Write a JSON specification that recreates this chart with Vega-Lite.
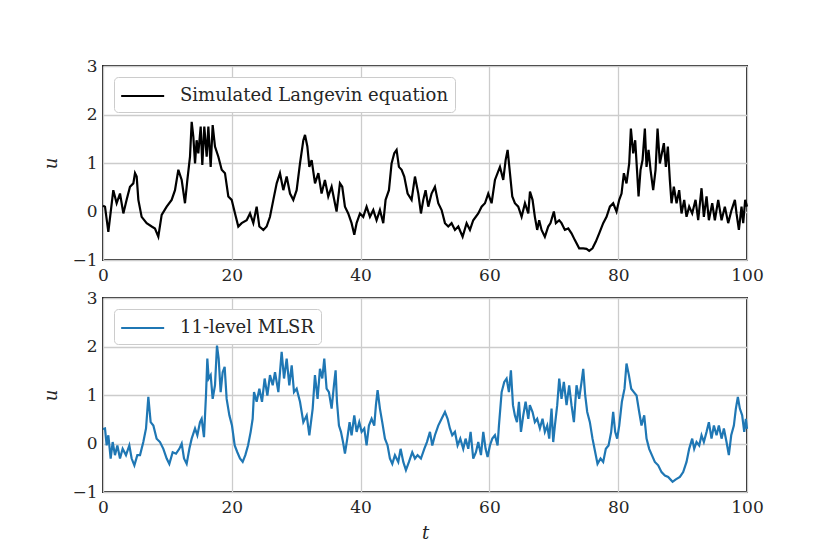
{
  "$schema": "https://vega.github.io/schema/vega-lite/v6.json",
  "description": "Simulated Langevin equation vs 11-level MLSR",
  "background": "white",
  "padding": {"left": 41, "top": 56, "right": 5, "bottom": 5},
  "spacing": 38,
  "bounds": "flush",
  "datasets": {
    "langevin": [
      {"t": 0, "u": 0.12}, {"t": 0.31, "u": 0.1}, {"t": 0.83, "u": -0.42}, {"t": 1.6, "u": 0.44}, {"t": 2.12, "u": 0.17},
      {"t": 2.64, "u": 0.37}, {"t": 3.16, "u": -0.04}, {"t": 3.67, "u": 0.24}, {"t": 4.19, "u": 0.51}, {"t": 4.71, "u": 0.58},
      {"t": 4.97, "u": 0.79}, {"t": 5.23, "u": 0.72}, {"t": 5.49, "u": 0.24}, {"t": 6.0, "u": -0.11}, {"t": 6.78, "u": -0.24},
      {"t": 7.56, "u": -0.31}, {"t": 8.07, "u": -0.35}, {"t": 8.59, "u": -0.52}, {"t": 9.11, "u": -0.07}, {"t": 9.89, "u": 0.1},
      {"t": 10.66, "u": 0.24}, {"t": 11.18, "u": 0.44}, {"t": 11.7, "u": 0.86}, {"t": 12.22, "u": 0.65}, {"t": 12.73, "u": 0.17},
      {"t": 13.1, "u": 0.65}, {"t": 13.51, "u": 1.13}, {"t": 13.77, "u": 1.85}, {"t": 14.03, "u": 1.54}, {"t": 14.29, "u": 0.99},
      {"t": 14.54, "u": 1.47}, {"t": 14.8, "u": 1.2}, {"t": 15.17, "u": 1.75}, {"t": 15.42, "u": 0.96}, {"t": 15.73, "u": 1.75},
      {"t": 16.1, "u": 1.13}, {"t": 16.36, "u": 1.75}, {"t": 16.72, "u": 0.92}, {"t": 17.03, "u": 1.78}, {"t": 17.39, "u": 1.34},
      {"t": 17.91, "u": 1.13}, {"t": 18.43, "u": 0.86}, {"t": 18.94, "u": 0.79}, {"t": 19.46, "u": 0.31}, {"t": 19.98, "u": 0.24},
      {"t": 20.5, "u": -0.04}, {"t": 21.01, "u": -0.31}, {"t": 21.53, "u": -0.24}, {"t": 22.31, "u": -0.18}, {"t": 22.83, "u": -0.04},
      {"t": 23.34, "u": -0.24}, {"t": 23.86, "u": 0.1}, {"t": 24.28, "u": -0.31}, {"t": 24.9, "u": -0.38}, {"t": 25.41, "u": -0.31},
      {"t": 25.93, "u": -0.11}, {"t": 26.45, "u": 0.24}, {"t": 26.97, "u": 0.58}, {"t": 27.48, "u": 0.79}, {"t": 28.0, "u": 0.44},
      {"t": 28.52, "u": 0.72}, {"t": 29.04, "u": 0.37}, {"t": 29.55, "u": 0.24}, {"t": 30.07, "u": 0.44}, {"t": 30.59, "u": 0.99},
      {"t": 31.11, "u": 1.47}, {"t": 31.37, "u": 1.58}, {"t": 31.73, "u": 1.34}, {"t": 32.04, "u": 0.92}, {"t": 32.4, "u": 1.06},
      {"t": 32.92, "u": 0.58}, {"t": 33.44, "u": 0.79}, {"t": 33.94, "u": 0.37}, {"t": 34.46, "u": 0.65}, {"t": 34.98, "u": 0.31},
      {"t": 35.5, "u": 0.51}, {"t": 36.01, "u": 0.17}, {"t": 36.27, "u": 0.0}, {"t": 36.79, "u": 0.58}, {"t": 37.15, "u": 0.51},
      {"t": 37.57, "u": 0.1}, {"t": 38.08, "u": -0.04}, {"t": 38.6, "u": -0.24}, {"t": 39.02, "u": -0.48}, {"t": 39.38, "u": -0.24},
      {"t": 39.9, "u": -0.04}, {"t": 40.41, "u": -0.11}, {"t": 40.93, "u": 0.1}, {"t": 41.45, "u": -0.11}, {"t": 41.97, "u": 0.03},
      {"t": 42.48, "u": -0.18}, {"t": 43.0, "u": 0.03}, {"t": 43.52, "u": -0.24}, {"t": 43.88, "u": 0.24}, {"t": 44.4, "u": 0.44},
      {"t": 44.81, "u": 0.99}, {"t": 45.23, "u": 1.2}, {"t": 45.59, "u": 1.27}, {"t": 45.95, "u": 0.92}, {"t": 46.37, "u": 0.86},
      {"t": 46.78, "u": 0.72}, {"t": 47.3, "u": 0.37}, {"t": 47.92, "u": 0.24}, {"t": 48.44, "u": 0.72}, {"t": 48.96, "u": 0.37},
      {"t": 49.37, "u": -0.04}, {"t": 49.73, "u": 0.24}, {"t": 50.09, "u": 0.44}, {"t": 50.51, "u": 0.1}, {"t": 51.02, "u": 0.37},
      {"t": 51.54, "u": 0.51}, {"t": 52.06, "u": 0.17}, {"t": 52.58, "u": 0.03}, {"t": 53.1, "u": -0.24}, {"t": 53.61, "u": -0.31},
      {"t": 54.13, "u": -0.24}, {"t": 54.65, "u": -0.38}, {"t": 55.17, "u": -0.31}, {"t": 55.84, "u": -0.52}, {"t": 56.46, "u": -0.24},
      {"t": 56.98, "u": -0.38}, {"t": 57.49, "u": -0.18}, {"t": 58.27, "u": -0.04}, {"t": 58.79, "u": 0.1}, {"t": 59.31, "u": 0.17},
      {"t": 59.82, "u": 0.37}, {"t": 60.34, "u": 0.17}, {"t": 60.86, "u": 0.65}, {"t": 61.64, "u": 0.92}, {"t": 62.15, "u": 0.65},
      {"t": 62.52, "u": 1.06}, {"t": 62.83, "u": 1.27}, {"t": 63.19, "u": 0.79}, {"t": 63.55, "u": 0.31}, {"t": 63.96, "u": 0.17},
      {"t": 64.48, "u": 0.1}, {"t": 65.0, "u": -0.11}, {"t": 65.52, "u": 0.17}, {"t": 66.04, "u": -0.04}, {"t": 66.3, "u": 0.41},
      {"t": 66.7, "u": 0.24}, {"t": 67.06, "u": -0.11}, {"t": 67.42, "u": -0.38}, {"t": 67.73, "u": -0.18}, {"t": 68.1, "u": -0.38},
      {"t": 68.61, "u": -0.52}, {"t": 69.13, "u": -0.31}, {"t": 69.49, "u": -0.24}, {"t": 70.01, "u": 0.0}, {"t": 70.32, "u": -0.24},
      {"t": 70.84, "u": -0.18}, {"t": 71.2, "u": -0.24}, {"t": 71.72, "u": -0.38}, {"t": 72.24, "u": -0.35}, {"t": 72.75, "u": -0.45},
      {"t": 73.27, "u": -0.59}, {"t": 73.94, "u": -0.76}, {"t": 74.57, "u": -0.76}, {"t": 75.08, "u": -0.77}, {"t": 75.5, "u": -0.81},
      {"t": 76.01, "u": -0.76}, {"t": 76.53, "u": -0.62}, {"t": 77.05, "u": -0.45}, {"t": 77.67, "u": -0.24}, {"t": 78.19, "u": -0.11},
      {"t": 78.71, "u": 0.1}, {"t": 79.22, "u": 0.17}, {"t": 79.74, "u": 0.0}, {"t": 80.16, "u": 0.24}, {"t": 80.52, "u": 0.37},
      {"t": 80.88, "u": 0.79}, {"t": 81.29, "u": 0.58}, {"t": 81.71, "u": 0.99}, {"t": 81.97, "u": 1.71}, {"t": 82.33, "u": 1.2},
      {"t": 82.64, "u": 1.47}, {"t": 82.95, "u": 0.79}, {"t": 83.16, "u": 0.31}, {"t": 83.47, "u": 0.86}, {"t": 83.78, "u": 1.06},
      {"t": 84.14, "u": 1.71}, {"t": 84.4, "u": 0.92}, {"t": 84.71, "u": 1.27}, {"t": 85.02, "u": 0.86}, {"t": 85.43, "u": 0.44},
      {"t": 85.8, "u": 0.86}, {"t": 86.11, "u": 1.71}, {"t": 86.47, "u": 0.99}, {"t": 86.78, "u": 1.2}, {"t": 87.09, "u": 1.41},
      {"t": 87.4, "u": 0.92}, {"t": 87.71, "u": 1.34}, {"t": 88.02, "u": 0.65}, {"t": 88.28, "u": 0.17}, {"t": 88.64, "u": 0.51},
      {"t": 89.06, "u": 0.17}, {"t": 89.47, "u": 0.44}, {"t": 89.83, "u": -0.04}, {"t": 90.25, "u": 0.24}, {"t": 90.61, "u": -0.11},
      {"t": 91.02, "u": 0.1}, {"t": 91.49, "u": -0.04}, {"t": 92.01, "u": 0.24}, {"t": 92.42, "u": -0.18}, {"t": 92.94, "u": 0.48},
      {"t": 93.3, "u": -0.11}, {"t": 93.72, "u": 0.31}, {"t": 94.08, "u": -0.18}, {"t": 94.6, "u": 0.17}, {"t": 95.01, "u": -0.18},
      {"t": 95.53, "u": 0.24}, {"t": 96.05, "u": -0.18}, {"t": 96.56, "u": 0.1}, {"t": 97.08, "u": -0.24}, {"t": 97.6, "u": 0.03},
      {"t": 98.12, "u": 0.24}, {"t": 98.37, "u": -0.04}, {"t": 98.74, "u": -0.38}, {"t": 99.15, "u": 0.1}, {"t": 99.41, "u": -0.24},
      {"t": 99.72, "u": 0.24}, {"t": 100, "u": 0.1}
    ],
    "mlsr": [
      {"t": 0, "u": 0.3}, {"t": 0.31, "u": 0.31}, {"t": 0.57, "u": -0.04}, {"t": 0.83, "u": 0.17}, {"t": 1.19, "u": -0.31},
      {"t": 1.5, "u": 0.03}, {"t": 1.86, "u": -0.24}, {"t": 2.23, "u": -0.04}, {"t": 2.64, "u": -0.31}, {"t": 3.05, "u": -0.11},
      {"t": 3.57, "u": -0.24}, {"t": 4.09, "u": -0.04}, {"t": 4.45, "u": -0.31}, {"t": 4.87, "u": -0.45}, {"t": 5.33, "u": -0.24},
      {"t": 5.75, "u": -0.24}, {"t": 6.26, "u": 0.03}, {"t": 6.68, "u": 0.31}, {"t": 7.04, "u": 0.96}, {"t": 7.4, "u": 0.44},
      {"t": 7.82, "u": 0.37}, {"t": 8.33, "u": 0.1}, {"t": 8.85, "u": 0.03}, {"t": 9.37, "u": -0.11}, {"t": 9.89, "u": -0.31},
      {"t": 10.3, "u": -0.42}, {"t": 10.82, "u": -0.18}, {"t": 11.34, "u": -0.21}, {"t": 11.85, "u": -0.11}, {"t": 12.22, "u": 0.0},
      {"t": 12.58, "u": -0.31}, {"t": 12.99, "u": -0.42}, {"t": 13.41, "u": -0.11}, {"t": 13.77, "u": 0.1}, {"t": 14.29, "u": 0.31},
      {"t": 14.65, "u": 0.17}, {"t": 15.06, "u": 0.44}, {"t": 15.32, "u": 0.51}, {"t": 15.68, "u": 0.13}, {"t": 15.99, "u": 0.99},
      {"t": 16.2, "u": 1.75}, {"t": 16.41, "u": 1.34}, {"t": 16.72, "u": 1.41}, {"t": 17.03, "u": 0.92}, {"t": 17.39, "u": 1.2},
      {"t": 17.7, "u": 2.02}, {"t": 17.96, "u": 1.75}, {"t": 18.27, "u": 1.06}, {"t": 18.58, "u": 1.47}, {"t": 18.89, "u": 1.58},
      {"t": 19.2, "u": 0.92}, {"t": 19.62, "u": 0.58}, {"t": 20.03, "u": 0.37}, {"t": 20.45, "u": -0.04}, {"t": 20.86, "u": -0.18},
      {"t": 21.27, "u": -0.31}, {"t": 21.69, "u": -0.38}, {"t": 22.1, "u": -0.24}, {"t": 22.52, "u": -0.04}, {"t": 22.93, "u": 0.24},
      {"t": 23.24, "u": 0.51}, {"t": 23.45, "u": 1.06}, {"t": 23.86, "u": 0.86}, {"t": 24.28, "u": 1.13}, {"t": 24.69, "u": 0.86},
      {"t": 25.1, "u": 1.34}, {"t": 25.52, "u": 0.99}, {"t": 25.93, "u": 1.41}, {"t": 26.35, "u": 1.2}, {"t": 26.71, "u": 1.47},
      {"t": 27.23, "u": 1.06}, {"t": 27.74, "u": 1.89}, {"t": 28.11, "u": 1.34}, {"t": 28.52, "u": 1.75}, {"t": 28.93, "u": 1.2},
      {"t": 29.3, "u": 1.61}, {"t": 29.66, "u": 1.06}, {"t": 30.07, "u": 1.13}, {"t": 30.59, "u": 0.86}, {"t": 31.11, "u": 0.44},
      {"t": 31.63, "u": 0.58}, {"t": 32.04, "u": 0.17}, {"t": 32.56, "u": 0.72}, {"t": 32.91, "u": 1.41}, {"t": 33.32, "u": 0.92},
      {"t": 33.69, "u": 1.54}, {"t": 34.05, "u": 1.34}, {"t": 34.36, "u": 1.75}, {"t": 34.72, "u": 1.13}, {"t": 35.08, "u": 1.06},
      {"t": 35.5, "u": 0.72}, {"t": 35.86, "u": 1.2}, {"t": 36.12, "u": 1.51}, {"t": 36.33, "u": 0.86}, {"t": 36.64, "u": 0.37},
      {"t": 36.95, "u": 0.24}, {"t": 37.27, "u": 0.03}, {"t": 37.57, "u": -0.21}, {"t": 37.93, "u": 0.1}, {"t": 38.29, "u": 0.44},
      {"t": 38.6, "u": 0.17}, {"t": 39.02, "u": 0.58}, {"t": 39.38, "u": 0.24}, {"t": 39.79, "u": 0.44}, {"t": 40.16, "u": 0.24},
      {"t": 40.57, "u": 0.31}, {"t": 40.93, "u": -0.04}, {"t": 41.29, "u": 0.37}, {"t": 41.71, "u": 0.51}, {"t": 42.12, "u": 0.37},
      {"t": 42.38, "u": 0.79}, {"t": 42.64, "u": 1.1}, {"t": 43.0, "u": 0.72}, {"t": 43.36, "u": 0.44}, {"t": 43.78, "u": 0.1},
      {"t": 44.19, "u": -0.04}, {"t": 44.55, "u": -0.31}, {"t": 44.92, "u": -0.42}, {"t": 45.33, "u": -0.24}, {"t": 45.85, "u": -0.38},
      {"t": 46.21, "u": -0.11}, {"t": 46.63, "u": -0.38}, {"t": 47.04, "u": -0.55}, {"t": 47.51, "u": -0.38}, {"t": 48.02, "u": -0.18},
      {"t": 48.44, "u": -0.31}, {"t": 48.85, "u": -0.24}, {"t": 49.37, "u": -0.31}, {"t": 49.89, "u": -0.11}, {"t": 50.3, "u": 0.03},
      {"t": 50.77, "u": 0.24}, {"t": 51.13, "u": -0.04}, {"t": 51.54, "u": 0.17}, {"t": 52.06, "u": 0.37}, {"t": 52.58, "u": 0.51},
      {"t": 53.1, "u": 0.65}, {"t": 53.51, "u": 0.51}, {"t": 53.87, "u": 0.31}, {"t": 54.23, "u": 0.17}, {"t": 54.65, "u": 0.24},
      {"t": 55.06, "u": -0.04}, {"t": 55.48, "u": 0.1}, {"t": 55.94, "u": -0.11}, {"t": 56.3, "u": 0.1}, {"t": 56.72, "u": -0.11},
      {"t": 57.08, "u": 0.24}, {"t": 57.49, "u": -0.31}, {"t": 57.91, "u": -0.18}, {"t": 58.27, "u": 0.03}, {"t": 58.69, "u": -0.24},
      {"t": 59.05, "u": 0.24}, {"t": 59.41, "u": -0.11}, {"t": 59.72, "u": -0.28}, {"t": 60.08, "u": -0.04}, {"t": 60.45, "u": 0.1},
      {"t": 60.86, "u": 0.17}, {"t": 61.27, "u": -0.04}, {"t": 61.48, "u": 0.37}, {"t": 61.9, "u": 1.06}, {"t": 62.31, "u": 1.27},
      {"t": 62.67, "u": 1.34}, {"t": 63.03, "u": 1.06}, {"t": 63.34, "u": 1.51}, {"t": 63.66, "u": 0.79}, {"t": 63.96, "u": 0.58},
      {"t": 64.28, "u": 0.44}, {"t": 64.59, "u": 0.86}, {"t": 64.9, "u": 0.24}, {"t": 65.26, "u": 0.58}, {"t": 65.62, "u": 0.86},
      {"t": 66.04, "u": 0.51}, {"t": 66.28, "u": 0.79}, {"t": 66.7, "u": 0.65}, {"t": 67.06, "u": 0.44}, {"t": 67.42, "u": 0.51},
      {"t": 67.84, "u": 0.31}, {"t": 68.25, "u": 0.51}, {"t": 68.61, "u": 0.24}, {"t": 68.98, "u": 0.37}, {"t": 69.29, "u": 0.1},
      {"t": 69.65, "u": 0.72}, {"t": 69.91, "u": 0.03}, {"t": 70.17, "u": 0.37}, {"t": 70.53, "u": 0.79}, {"t": 70.84, "u": 1.34},
      {"t": 71.2, "u": 0.92}, {"t": 71.56, "u": 1.27}, {"t": 71.98, "u": 0.79}, {"t": 72.39, "u": 1.2}, {"t": 72.75, "u": 0.79},
      {"t": 73.12, "u": 0.44}, {"t": 73.53, "u": 1.2}, {"t": 73.94, "u": 0.92}, {"t": 74.31, "u": 1.27}, {"t": 74.57, "u": 1.54},
      {"t": 74.88, "u": 0.99}, {"t": 75.19, "u": 0.65}, {"t": 75.6, "u": 0.44}, {"t": 76.01, "u": 0.1}, {"t": 76.43, "u": -0.18},
      {"t": 76.79, "u": -0.42}, {"t": 77.26, "u": -0.31}, {"t": 77.67, "u": -0.38}, {"t": 78.08, "u": -0.11}, {"t": 78.5, "u": -0.04},
      {"t": 78.91, "u": 0.24}, {"t": 79.22, "u": 0.65}, {"t": 79.53, "u": 0.24}, {"t": 79.84, "u": 0.1}, {"t": 80.16, "u": 0.37},
      {"t": 80.57, "u": 0.86}, {"t": 80.98, "u": 1.13}, {"t": 81.29, "u": 1.65}, {"t": 81.66, "u": 1.41}, {"t": 82.02, "u": 1.13},
      {"t": 82.43, "u": 1.06}, {"t": 82.85, "u": 0.99}, {"t": 83.26, "u": 0.65}, {"t": 83.62, "u": 0.37}, {"t": 84.04, "u": 0.58},
      {"t": 84.4, "u": 0.1}, {"t": 84.81, "u": -0.11}, {"t": 85.23, "u": -0.24}, {"t": 85.69, "u": -0.38}, {"t": 86.21, "u": -0.45},
      {"t": 86.73, "u": -0.59}, {"t": 87.25, "u": -0.66}, {"t": 87.76, "u": -0.69}, {"t": 88.44, "u": -0.79}, {"t": 88.95, "u": -0.74},
      {"t": 89.58, "u": -0.69}, {"t": 90.09, "u": -0.59}, {"t": 90.61, "u": -0.38}, {"t": 91.02, "u": -0.11}, {"t": 91.49, "u": 0.1},
      {"t": 91.8, "u": -0.11}, {"t": 92.16, "u": 0.03}, {"t": 92.58, "u": -0.04}, {"t": 92.94, "u": 0.17}, {"t": 93.3, "u": 0.03},
      {"t": 93.72, "u": 0.24}, {"t": 94.08, "u": 0.44}, {"t": 94.49, "u": 0.1}, {"t": 94.86, "u": 0.37}, {"t": 95.27, "u": 0.17},
      {"t": 95.63, "u": 0.37}, {"t": 96.05, "u": 0.1}, {"t": 96.41, "u": 0.31}, {"t": 96.82, "u": 0.03}, {"t": 97.18, "u": -0.24},
      {"t": 97.55, "u": 0.17}, {"t": 97.96, "u": 0.37}, {"t": 98.27, "u": 0.72}, {"t": 98.58, "u": 0.96}, {"t": 98.89, "u": 0.72},
      {"t": 99.25, "u": 0.58}, {"t": 99.57, "u": 0.24}, {"t": 99.82, "u": 0.51}, {"t": 100, "u": 0.3}
    ]
  },
  "resolve": {"scale": {"color": "independent"}, "legend": {"color": "independent"}},
  "vconcat": [
    {
      "width": 644,
      "height": 194,
      "data": {"name": "langevin"},
      "mark": {"type": "line", "strokeWidth": 2.2},
      "encoding": {
        "x": {"field": "t", "type": "quantitative", "scale": {"domain": [0, 100], "nice": false},
              "axis": {"values": [0, 20, 40, 60, 80, 100], "title": null, "labelPadding": 7}},
        "y": {"field": "u", "type": "quantitative", "scale": {"domain": [-1, 3], "nice": false},
              "axis": {"values": [-1, 0, 1, 2, 3], "title": "u", "labelPadding": 6, "titleX": -43, "titleY": 97}},
        "color": {"datum": "Simulated Langevin equation", "type": "nominal",
                  "scale": {"range": ["#000000"]}}
      }
    },
    {
      "width": 644,
      "height": 194,
      "data": {"name": "mlsr"},
      "mark": {"type": "line", "strokeWidth": 2.2},
      "encoding": {
        "x": {"field": "t", "type": "quantitative", "scale": {"domain": [0, 100], "nice": false},
              "axis": {"values": [0, 20, 40, 60, 80, 100], "title": "t", "labelPadding": 7, "titlePadding": 9}},
        "y": {"field": "u", "type": "quantitative", "scale": {"domain": [-1, 3], "nice": false},
              "axis": {"values": [-1, 0, 1, 2, 3], "title": "u", "labelPadding": 6, "titleX": -43, "titleY": 97}},
        "color": {"datum": "11-level MLSR", "type": "nominal",
                  "scale": {"range": ["#1f77b4"]}}
      }
    }
  ],
  "config": {
    "font": "DejaVu Serif",
    "view": {"stroke": "#262626", "strokeWidth": 2},
    "axis": {
      "grid": true, "gridColor": "#cccccc", "gridWidth": 1.3,
      "domain": false, "ticks": false, "tickSize": 0, "labelFlush": false,
      "labelFont": "DejaVu Serif", "labelFontSize": 17, "labelColor": "#262626",
      "titleFont": "DejaVu Serif", "titleFontStyle": "italic", "titleFontWeight": "normal",
      "titleFontSize": 18, "titleColor": "#262626"
    },
    "legend": {
      "orient": "top-left", "offset": 11, "title": null,
      "fillColor": "white", "strokeColor": "#cccccc", "cornerRadius": 4, "padding": 7,
      "labelFont": "DejaVu Serif", "labelFontSize": 18, "labelColor": "#262626", "labelLimit": 400,
      "symbolType": "M-1.1,0L2.9,0", "symbolSize": 462, "symbolStrokeWidth": 2, "labelOffset": 35
    }
  }
}
